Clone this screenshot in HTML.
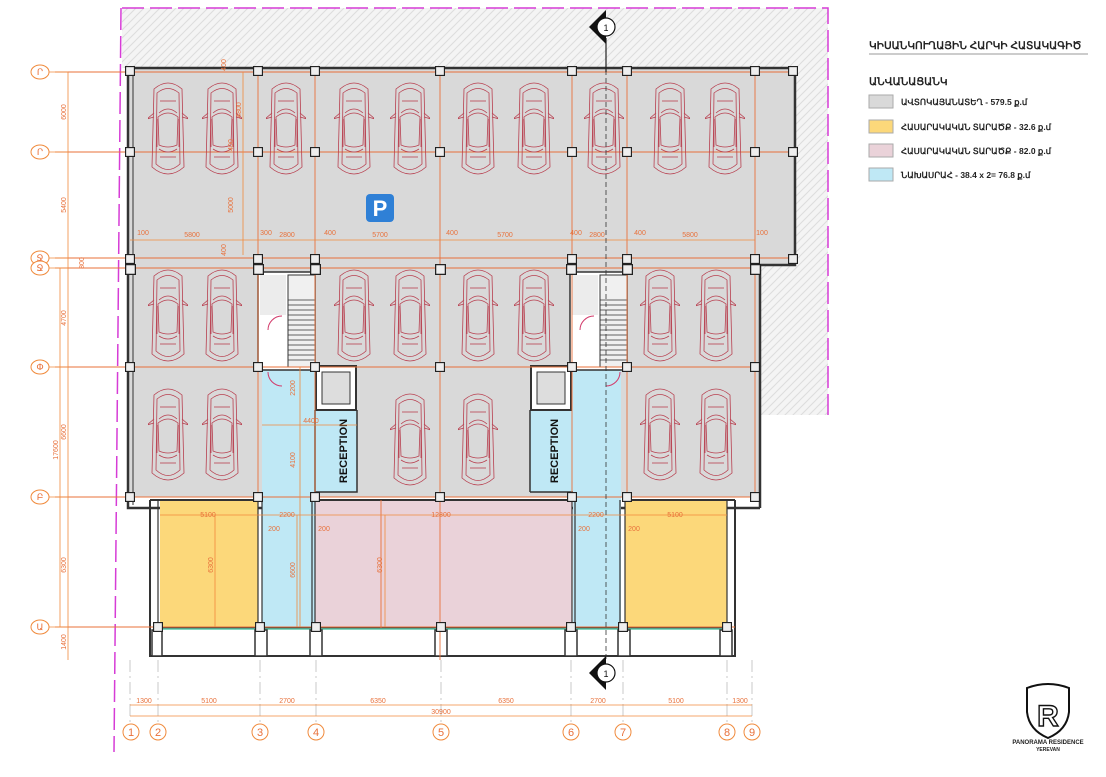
<!DOCTYPE html>
<html><head><meta charset="utf-8"><style>
html,body{margin:0;padding:0;background:#fff;width:1106px;height:777px;overflow:hidden}
svg{display:block}
text{font-family:"Liberation Sans",sans-serif}
</style></head><body>
<svg width="1106" height="777" viewBox="0 0 1106 777" xmlns="http://www.w3.org/2000/svg">
<defs>
<pattern id="h" width="8" height="8" patternUnits="userSpaceOnUse">
<rect width="8" height="8" fill="#f4f4f4"/>
<path d="M0 8 L8 0 M-2 2 L2 -2 M6 10 L10 6" stroke="#dcdcdc" stroke-width="1"/>
</pattern>
<symbol id="car" viewBox="0 0 40 100">
<g fill="none" stroke="#b84050" stroke-width="0.8">
<path d="M6 10 Q20 -2 34 10 L36 88 Q20 102 4 88 Z"/>
<path d="M9 14 Q20 5 31 14 L32 85 Q20 96 8 85 Z"/>
<path d="M10 38 Q20 30 30 38 L29 66 Q20 70 11 66 Z"/>
<path d="M11 34 Q20 26 29 34 M11 70 Q20 76 29 70"/>
<path d="M6 34 L-1 40 L6 38 M34 34 L41 40 L34 38"/>
<line x1="9" y1="40" x2="9" y2="68"/><line x1="31" y1="40" x2="31" y2="68"/>
<line x1="12" y1="22" x2="28" y2="22"/><line x1="12" y1="78" x2="28" y2="78"/>
</g>
</symbol>
<symbol id="col" viewBox="0 0 10 10"><rect x="0.5" y="0.5" width="9" height="9" fill="#eee" stroke="#222" stroke-width="1.3"/></symbol>
</defs>

<!-- hatch site -->
<path d="M122 8 H828 V415 H760 V265 H795 V68 H122 Z" fill="url(#h)"/>
<!-- magenta boundary -->
<path d="M122 8 H828 V415" fill="none" stroke="#d63cd6" stroke-width="1.5" stroke-dasharray="22 6"/>
<path d="M121 8 L114 752" fill="none" stroke="#d63cd6" stroke-width="1.5" stroke-dasharray="22 6"/>

<!-- parking gray -->
<rect x="128" y="68" width="667" height="197" fill="#d9d9d9"/>
<rect x="128" y="265" width="632" height="232" fill="#d9d9d9"/>
<!-- outer walls -->
<path d="M128 68 H795 V265 H760 V508 M128 68 V508 H760" fill="none" stroke="#333" stroke-width="2.5"/>
<line x1="133" y1="72" x2="133" y2="505" stroke="#333" stroke-width="1"/>

<!-- bottom rooms -->
<rect x="160" y="500" width="98" height="128" fill="#fcd87a"/>
<rect x="625" y="500" width="102" height="128" fill="#fcd87a"/>
<rect x="315" y="500" width="257" height="128" fill="#ead2d9"/>
<!-- blue corridors -->
<rect x="262" y="370" width="53" height="258" fill="#bfe8f5"/>
<rect x="315" y="410" width="42" height="82" fill="#bfe8f5"/>
<rect x="573" y="370" width="48" height="258" fill="#bfe8f5"/>
<rect x="530" y="410" width="43" height="82" fill="#bfe8f5"/>
<!-- stairs -->
<rect x="258" y="272" width="57" height="98" fill="#fff" stroke="#333" stroke-width="1.5"/>
<rect x="260" y="275" width="26" height="40" fill="#ececec"/>
<rect x="288" y="275" width="27" height="92" fill="#f0f0f0" stroke="#333"/>
<g stroke="#333" stroke-width="0.8">
<line x1="288" y1="300" x2="315" y2="300"/><line x1="288" y1="305" x2="315" y2="305"/><line x1="288" y1="310" x2="315" y2="310"/><line x1="288" y1="315" x2="315" y2="315"/><line x1="288" y1="320" x2="315" y2="320"/><line x1="288" y1="325" x2="315" y2="325"/><line x1="288" y1="330" x2="315" y2="330"/><line x1="288" y1="335" x2="315" y2="335"/><line x1="288" y1="340" x2="315" y2="340"/><line x1="288" y1="345" x2="315" y2="345"/><line x1="288" y1="350" x2="315" y2="350"/><line x1="288" y1="355" x2="315" y2="355"/><line x1="288" y1="360" x2="315" y2="360"/>
</g>
<rect x="570" y="272" width="57" height="98" fill="#fff" stroke="#333" stroke-width="1.5"/>
<rect x="572" y="275" width="26" height="40" fill="#ececec"/>
<rect x="600" y="275" width="27" height="92" fill="#f0f0f0" stroke="#333"/>
<g stroke="#333" stroke-width="0.8">
<line x1="600" y1="300" x2="627" y2="300"/><line x1="600" y1="305" x2="627" y2="305"/><line x1="600" y1="310" x2="627" y2="310"/><line x1="600" y1="315" x2="627" y2="315"/><line x1="600" y1="320" x2="627" y2="320"/><line x1="600" y1="325" x2="627" y2="325"/><line x1="600" y1="330" x2="627" y2="330"/><line x1="600" y1="335" x2="627" y2="335"/><line x1="600" y1="340" x2="627" y2="340"/><line x1="600" y1="345" x2="627" y2="345"/><line x1="600" y1="350" x2="627" y2="350"/><line x1="600" y1="355" x2="627" y2="355"/><line x1="600" y1="360" x2="627" y2="360"/>
</g>
<path d="M268 330 A14 14 0 0 1 282 316 M268 372 A14 14 0 0 0 282 386 M580 330 A14 14 0 0 1 594 316 M620 372 A14 14 0 0 1 606 386" fill="none" stroke="#d23a6a" stroke-width="1"/>
<!-- elevators -->
<rect x="316" y="366" width="40" height="44" fill="#fff" stroke="#333" stroke-width="2"/>
<rect x="322" y="372" width="28" height="32" fill="#ddd" stroke="#333"/>
<rect x="531" y="366" width="40" height="44" fill="#fff" stroke="#333" stroke-width="2"/>
<rect x="537" y="372" width="28" height="32" fill="#ddd" stroke="#333"/>
<!-- reception walls -->
<path d="M315 410 V492 H357 V410 M530 492 H573 M530 410 V492" fill="none" stroke="#333" stroke-width="1.5"/>
<text transform="translate(347 451) rotate(-90)" font-size="11" font-weight="bold" text-anchor="middle" fill="#111">RECEPTION</text>
<text transform="translate(558 451) rotate(-90)" font-size="11" font-weight="bold" text-anchor="middle" fill="#111">RECEPTION</text>

<!-- bottom walls -->
<path d="M150 500 H258 M315 500 H572 M625 500 H735 M150 500 V656 H735 V500" fill="none" stroke="#333" stroke-width="2"/>
<path d="M158 500 V628 H727 V500 M258 500 V628 M262 500 V628 M312 500 V628 M315 500 V628 M572 500 V628 M575 500 V628 M620 500 V628 M625 500 V628" fill="none" stroke="#333" stroke-width="1.2"/>
<line x1="160" y1="629" x2="727" y2="629" stroke="#5cc8a8" stroke-width="1.5"/>
<g fill="#fff" stroke="#333" stroke-width="1.5">
<rect x="152" y="630" width="10" height="26"/><rect x="255" y="630" width="12" height="26"/><rect x="310" y="630" width="12" height="26"/><rect x="435" y="630" width="12" height="26"/><rect x="565" y="630" width="12" height="26"/><rect x="618" y="630" width="12" height="26"/><rect x="720" y="630" width="12" height="26"/>
</g>

<!-- grid lines -->
<g stroke="#e8703a" stroke-width="0.9" fill="none">
<line x1="55" y1="72" x2="795" y2="72"/><line x1="55" y1="152" x2="795" y2="152"/>
<line x1="55" y1="258" x2="795" y2="258"/><line x1="55" y1="268" x2="760" y2="268"/>
<line x1="55" y1="367" x2="760" y2="367"/><line x1="55" y1="497" x2="760" y2="497"/>
<line x1="55" y1="627" x2="735" y2="627"/>
<line x1="258" y1="70" x2="258" y2="500"/><line x1="315" y1="70" x2="315" y2="500"/>
<line x1="440" y1="70" x2="440" y2="660"/><line x1="572" y1="70" x2="572" y2="500"/>
<line x1="627" y1="70" x2="627" y2="500"/><line x1="755" y1="70" x2="755" y2="500"/>
<line x1="381" y1="500" x2="381" y2="628"/>
</g>
<g stroke="#bbb" stroke-width="0.8" stroke-dasharray="12 4 2 4">
<line x1="130" y1="660" x2="130" y2="722"/><line x1="158" y1="660" x2="158" y2="722"/><line x1="260" y1="660" x2="260" y2="722"/><line x1="316" y1="660" x2="316" y2="722"/><line x1="441" y1="660" x2="441" y2="722"/><line x1="571" y1="660" x2="571" y2="722"/><line x1="623" y1="660" x2="623" y2="722"/><line x1="727" y1="660" x2="727" y2="722"/><line x1="752" y1="660" x2="752" y2="722"/>
</g>

<!-- columns -->
<g>
<use href="#col" x="125" y="66" width="10" height="10"/><use href="#col" x="253" y="66" width="10" height="10"/><use href="#col" x="310" y="66" width="10" height="10"/><use href="#col" x="435" y="66" width="10" height="10"/><use href="#col" x="567" y="66" width="10" height="10"/><use href="#col" x="622" y="66" width="10" height="10"/><use href="#col" x="750" y="66" width="10" height="10"/><use href="#col" x="788" y="66" width="10" height="10"/>
<use href="#col" x="125" y="147" width="10" height="10"/><use href="#col" x="253" y="147" width="10" height="10"/><use href="#col" x="310" y="147" width="10" height="10"/><use href="#col" x="435" y="147" width="10" height="10"/><use href="#col" x="567" y="147" width="10" height="10"/><use href="#col" x="622" y="147" width="10" height="10"/><use href="#col" x="750" y="147" width="10" height="10"/><use href="#col" x="788" y="147" width="10" height="10"/>
<use href="#col" x="125" y="254" width="10" height="10"/><use href="#col" x="253" y="254" width="10" height="10"/><use href="#col" x="310" y="254" width="10" height="10"/><use href="#col" x="567" y="254" width="10" height="10"/><use href="#col" x="622" y="254" width="10" height="10"/><use href="#col" x="750" y="254" width="10" height="10"/><use href="#col" x="788" y="254" width="10" height="10"/>
<use href="#col" x="125" y="264" width="11" height="11"/><use href="#col" x="253" y="264" width="11" height="11"/><use href="#col" x="310" y="264" width="11" height="11"/><use href="#col" x="435" y="264" width="11" height="11"/><use href="#col" x="566" y="264" width="11" height="11"/><use href="#col" x="622" y="264" width="11" height="11"/><use href="#col" x="750" y="264" width="11" height="11"/>
<use href="#col" x="125" y="362" width="10" height="10"/><use href="#col" x="253" y="362" width="10" height="10"/><use href="#col" x="310" y="362" width="10" height="10"/><use href="#col" x="435" y="362" width="10" height="10"/><use href="#col" x="567" y="362" width="10" height="10"/><use href="#col" x="622" y="362" width="10" height="10"/><use href="#col" x="750" y="362" width="10" height="10"/>
<use href="#col" x="125" y="492" width="10" height="10"/><use href="#col" x="253" y="492" width="10" height="10"/><use href="#col" x="310" y="492" width="10" height="10"/><use href="#col" x="435" y="492" width="10" height="10"/><use href="#col" x="567" y="492" width="10" height="10"/><use href="#col" x="622" y="492" width="10" height="10"/><use href="#col" x="750" y="492" width="10" height="10"/>
<use href="#col" x="153" y="622" width="10" height="10"/><use href="#col" x="255" y="622" width="10" height="10"/><use href="#col" x="311" y="622" width="10" height="10"/><use href="#col" x="436" y="622" width="10" height="10"/><use href="#col" x="566" y="622" width="10" height="10"/><use href="#col" x="618" y="622" width="10" height="10"/><use href="#col" x="722" y="622" width="10" height="10"/>
</g>

<!-- cars -->
<g>
<use href="#car" x="148" y="78" width="40" height="102"/><use href="#car" x="202" y="78" width="40" height="102"/><use href="#car" x="266" y="78" width="40" height="102"/><use href="#car" x="334" y="78" width="40" height="102"/><use href="#car" x="390" y="78" width="40" height="102"/><use href="#car" x="458" y="78" width="40" height="102"/><use href="#car" x="514" y="78" width="40" height="102"/><use href="#car" x="584" y="78" width="40" height="102"/><use href="#car" x="650" y="78" width="40" height="102"/><use href="#car" x="705" y="78" width="40" height="102"/>
<use href="#car" x="148" y="266" width="40" height="100"/><use href="#car" x="202" y="266" width="40" height="100"/><use href="#car" x="334" y="266" width="40" height="100"/><use href="#car" x="390" y="266" width="40" height="100"/><use href="#car" x="458" y="266" width="40" height="100"/><use href="#car" x="514" y="266" width="40" height="100"/><use href="#car" x="640" y="266" width="40" height="100"/><use href="#car" x="696" y="266" width="40" height="100"/>
<use href="#car" x="148" y="383" width="40" height="104"/><use href="#car" x="202" y="383" width="40" height="104"/><use href="#car" x="390" y="388" width="40" height="104"/><use href="#car" x="458" y="388" width="40" height="104"/><use href="#car" x="640" y="383" width="40" height="104"/><use href="#car" x="696" y="383" width="40" height="104"/>
</g>

<!-- P sign -->
<rect x="366" y="194" width="28" height="28" rx="4" fill="#2f80d6"/>
<text x="380" y="216" font-size="22" font-weight="bold" fill="#fff" text-anchor="middle">P</text>

<!-- dimension lines -->
<g stroke="#f08a3c" stroke-width="0.8" fill="none">
<line x1="130" y1="240" x2="755" y2="240"/>
<line x1="160" y1="515" x2="727" y2="515"/>
<line x1="130" y1="705" x2="752" y2="705"/><line x1="130" y1="716" x2="752" y2="716"/>
<line x1="68" y1="72" x2="68" y2="660"/><line x1="60" y1="268" x2="60" y2="627"/>
<line x1="243" y1="72" x2="243" y2="255"/>
<line x1="300" y1="367" x2="300" y2="627"/>
<line x1="215" y1="515" x2="215" y2="627"/><line x1="385" y1="515" x2="385" y2="627"/><line x1="297" y1="515" x2="297" y2="627"/>
<line x1="262" y1="425" x2="357" y2="425"/>
</g>
<g font-size="7" fill="#e8703a" text-anchor="middle">
<text x="143" y="235">100</text><text x="192" y="237">5800</text><text x="266" y="235">300</text><text x="287" y="237">2800</text><text x="330" y="235">400</text><text x="380" y="237">5700</text><text x="452" y="235">400</text><text x="505" y="237">5700</text><text x="576" y="235">400</text><text x="597" y="237">2800</text><text x="640" y="235">400</text><text x="690" y="237">5800</text><text x="762" y="235">100</text>
<text x="208" y="517">5100</text><text x="287" y="517">2200</text><text x="441" y="517">12800</text><text x="596" y="517">2200</text><text x="675" y="517">5100</text>
<text x="274" y="531">200</text><text x="324" y="531">200</text><text x="584" y="531">200</text><text x="634" y="531">200</text>
<text x="144" y="703">1300</text><text x="209" y="703">5100</text><text x="287" y="703">2700</text><text x="378" y="703">6350</text><text x="506" y="703">6350</text><text x="598" y="703">2700</text><text x="676" y="703">5100</text><text x="740" y="703">1300</text><text x="441" y="714">30900</text>
<text x="311" y="423">4400</text>
<text transform="translate(66 112) rotate(-90)">6000</text><text transform="translate(66 205) rotate(-90)">5400</text><text transform="translate(66 318) rotate(-90)">4700</text><text transform="translate(66 432) rotate(-90)">6600</text><text transform="translate(66 565) rotate(-90)">6300</text><text transform="translate(66 642) rotate(-90)">1400</text><text transform="translate(58 450) rotate(-90)">17600</text>
<text transform="translate(84 263) rotate(-90)">800</text>
<text transform="translate(241 110) rotate(-90)">4800</text><text transform="translate(233 205) rotate(-90)">5000</text><text transform="translate(233 145) rotate(-90)">400</text><text transform="translate(226 65) rotate(-90)">400</text><text transform="translate(226 250) rotate(-90)">400</text>
<text transform="translate(295 388) rotate(-90)">2200</text><text transform="translate(295 460) rotate(-90)">4100</text>
<text transform="translate(213 565) rotate(-90)">6300</text><text transform="translate(295 570) rotate(-90)">6600</text><text transform="translate(382 565) rotate(-90)">6300</text>
</g>

<!-- axis circles -->
<g fill="#fff" stroke="#f08a3c" stroke-width="1">
<ellipse cx="40" cy="72" rx="9" ry="7"/><ellipse cx="40" cy="152" rx="9" ry="7"/><ellipse cx="40" cy="258" rx="9" ry="7"/><ellipse cx="40" cy="268" rx="9" ry="7"/><ellipse cx="40" cy="367" rx="9" ry="7"/><ellipse cx="40" cy="497" rx="9" ry="7"/><ellipse cx="40" cy="627" rx="9" ry="7"/>
<circle cx="131" cy="732" r="8"/><circle cx="158" cy="732" r="8"/><circle cx="260" cy="732" r="8"/><circle cx="316" cy="732" r="8"/><circle cx="441" cy="732" r="8"/><circle cx="571" cy="732" r="8"/><circle cx="623" cy="732" r="8"/><circle cx="727" cy="732" r="8"/><circle cx="752" cy="732" r="8"/>
</g>
<g stroke="#f08a3c" stroke-width="0.8"><line x1="49" y1="72" x2="68" y2="72"/><line x1="49" y1="152" x2="68" y2="152"/><line x1="49" y1="258" x2="68" y2="258"/><line x1="49" y1="268" x2="68" y2="268"/><line x1="49" y1="367" x2="68" y2="367"/><line x1="49" y1="497" x2="68" y2="497"/><line x1="49" y1="627" x2="68" y2="627"/></g>
<g font-size="9" fill="#e8703a" text-anchor="middle">
<text x="40" y="75">Ր</text><text x="40" y="155">Ր</text><text x="40" y="261">Ջ</text><text x="40" y="271">Ջ</text><text x="40" y="370">Փ</text><text x="40" y="500">Բ</text><text x="40" y="630">Ա</text>
<text x="131" y="736" font-size="11">1</text><text x="158" y="736" font-size="11">2</text><text x="260" y="736" font-size="11">3</text><text x="316" y="736" font-size="11">4</text><text x="441" y="736" font-size="11">5</text><text x="571" y="736" font-size="11">6</text><text x="623" y="736" font-size="11">7</text><text x="727" y="736" font-size="11">8</text><text x="752" y="736" font-size="11">9</text>
</g>

<!-- section line -->
<line x1="606" y1="38" x2="606" y2="660" stroke="#333" stroke-width="0.8" stroke-dasharray="5 3"/>
<line x1="606" y1="38" x2="606" y2="72" stroke="#222" stroke-width="1.2"/>
<path d="M589 27 L606 10 L606 44 Z" fill="#111"/>
<circle cx="606" cy="27" r="9" fill="#fff" stroke="#111" stroke-width="1.2"/>
<text x="606" y="31" font-size="9" text-anchor="middle" fill="#111">1</text>
<path d="M589 673 L606 656 L606 690 Z" fill="#111"/>
<circle cx="606" cy="673" r="9" fill="#fff" stroke="#111" stroke-width="1.2"/>
<text x="606" y="677" font-size="9" text-anchor="middle" fill="#111">1</text>

<!-- legend -->
<text x="869" y="49" font-size="10.5" font-weight="bold" fill="#222">ԿԻՍԱՆԿՈՒՂԱՅԻՆ ՀԱՐԿԻ ՀԱՏԱԿԱԳԻԾ</text>
<line x1="869" y1="54" x2="1088" y2="54" stroke="#999" stroke-width="1"/>
<text x="869" y="85" font-size="10.5" font-weight="bold" fill="#222">ԱՆՎԱՆԱՑԱՆԿ</text>
<rect x="869" y="95" width="24" height="13" fill="#d9d9d9" stroke="#aaa"/>
<rect x="869" y="120" width="24" height="13" fill="#fcd87a" stroke="#aaa"/>
<rect x="869" y="144" width="24" height="13" fill="#ead2d9" stroke="#aaa"/>
<rect x="869" y="168" width="24" height="13" fill="#bfe8f5" stroke="#aaa"/>
<g font-size="8.5" font-weight="bold" fill="#222">
<text x="901" y="105">ԱՎՏՈԿԱՅԱՆԱՏԵՂ  - 579.5 ք.մ</text>
<text x="901" y="130">ՀԱՍԱՐԱԿԱԿԱՆ ՏԱՐԱԾՔ  - 32.6 ք.մ</text>
<text x="901" y="154">ՀԱՍԱՐԱԿԱԿԱՆ ՏԱՐԱԾՔ  - 82.0 ք.մ</text>
<text x="901" y="178">ՆԱԽԱՍՐԱՀ  - 38.4 x 2= 76.8 ք.մ</text>
</g>

<!-- logo -->
<path d="M1027 688 Q1048 680 1069 688 L1069 712 Q1067 730 1048 738 Q1029 730 1027 712 Z" fill="#fff" stroke="#111" stroke-width="2"/>
<text x="1048" y="726" font-size="30" font-family="Liberation Serif,serif" font-weight="bold" text-anchor="middle" fill="none" stroke="#111" stroke-width="1.4">R</text>
<text x="1048" y="744" font-size="6" font-family="Liberation Serif,serif" font-weight="bold" text-anchor="middle" fill="#222">PANORAMA RESIDENCE</text>
<text x="1048" y="751" font-size="5" font-family="Liberation Serif,serif" font-weight="bold" text-anchor="middle" fill="#222">YEREVAN</text>
</svg>
</body></html>
